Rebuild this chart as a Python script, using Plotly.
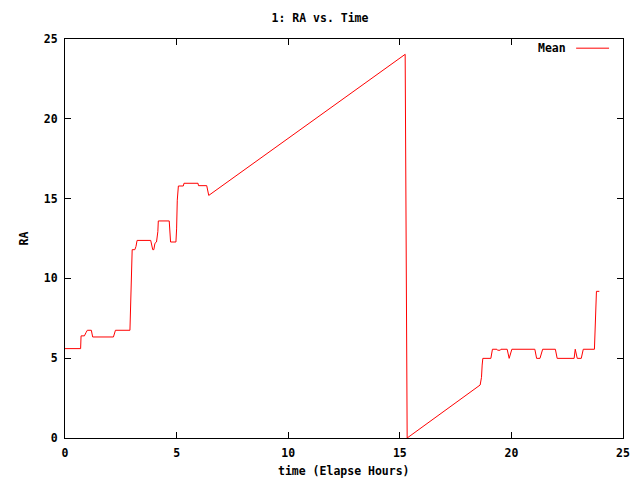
import plotly.graph_objects as go

t_hours = [0.0, 0.70, 0.72, 0.87, 0.94, 1.0, 1.18, 1.24, 2.17, 2.26, 2.91, 2.93, 2.96, 3.01,
           3.13, 3.18, 3.23, 3.84, 3.93, 3.98, 4.03, 4.10, 4.16, 4.18, 4.67, 4.71, 4.73, 4.97,
           5.0, 5.03, 5.08, 5.30, 5.33, 5.96, 5.98, 6.35, 6.44, 15.24, 15.27, 15.30, 15.33,
           18.60, 18.66, 18.69, 18.72, 19.08, 19.15, 19.35, 19.38, 19.50, 19.53, 19.81, 19.90,
           20.02, 21.05, 21.13, 21.28, 21.40, 21.97, 22.05, 22.81, 22.86, 22.95, 23.13, 23.22,
           23.72, 23.75, 23.78, 23.81, 23.94]
ra_mean = [5.6, 5.6, 6.4, 6.4, 6.6, 6.75, 6.75, 6.33, 6.33, 6.75, 6.75, 8.0, 10.5, 11.8,
           11.8, 12.0, 12.38, 12.38, 11.8, 11.8, 12.2, 12.28, 12.93, 13.6, 13.6, 13.0, 12.28, 12.28,
           13.1, 14.9, 15.79, 15.79, 15.96, 15.96, 15.81, 15.81, 15.2, 24.04, 18.0, 6.0, 0.0,
           3.32, 3.8, 4.57, 4.99, 4.99, 5.56, 5.56, 5.5, 5.5, 5.56, 5.56, 4.99,
           5.56, 5.56, 4.99, 4.99, 5.56, 5.56, 4.99, 4.99, 5.56, 4.99, 4.99, 5.56,
           5.56, 6.45, 8.27, 9.19, 9.19]

x_ticks = [0, 5, 10, 15, 20, 25]
y_ticks = [0, 5, 10, 15, 20, 25]

FONT = dict(family="DejaVu Sans Mono", size=11.5, color="black", weight="bold")

fig = go.Figure()
fig.add_trace(go.Scatter(x=t_hours, y=ra_mean, mode="lines", name="Mean",
                         line=dict(color="red", width=1), showlegend=False))

axis_common = dict(showline=True, mirror="ticks", linecolor="black", linewidth=1,
                   ticks="inside", ticklen=6, tickcolor="black", tickwidth=1,
                   showgrid=False, zeroline=False, tickfont=FONT, automargin=False)

fig.update_layout(
    width=640, height=480,
    margin=dict(l=65, r=17, t=39, b=42, autoexpand=False),
    paper_bgcolor="white", plot_bgcolor="white",
    font=FONT,
    title=dict(text="1: RA vs. Time", x=0.5, xanchor="center", y=1 - 18 / 480, yanchor="middle",
               font=FONT),
    xaxis=dict(range=[0, 25], tickvals=x_ticks, ticklabelstandoff=4, **axis_common),
    yaxis=dict(range=[0, 25], tickvals=y_ticks, ticklabelstandoff=4, **axis_common),
)

# axis titles
fig.add_annotation(x=0.5, y=0, xref="paper", yref="paper", text="time (Elapse Hours)",
                   showarrow=False, xanchor="center", yanchor="middle", yshift=-33, font=FONT)
fig.add_annotation(x=0, y=0.5, xref="paper", yref="paper", text="RA", textangle=-90,
                   showarrow=False, xanchor="center", yanchor="middle", xshift=-42, font=FONT)

# gnuplot-style legend: label then line sample
fig.add_annotation(x=0.901, y=0.977, xref="paper", yref="paper", text="Mean",
                   showarrow=False, xanchor="right", yanchor="middle", font=FONT)
fig.add_shape(type="line", xref="paper", yref="paper", x0=0.916, x1=0.975, y0=0.977, y1=0.977,
              line=dict(color="red", width=1))

fig.write_html("out.html", config={"displayModeBar": False},
               post_script="document.body.style.margin='0px';")
